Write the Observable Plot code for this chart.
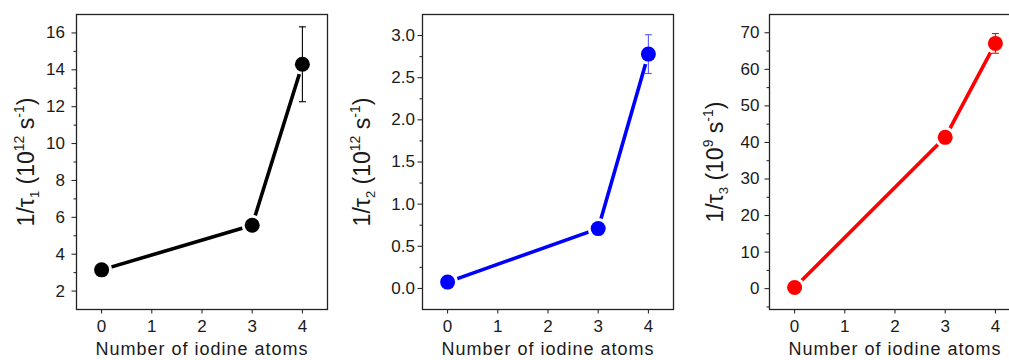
<!DOCTYPE html>
<html><head><meta charset="utf-8">
<script src="https://cdn.jsdelivr.net/npm/d3@7"></script>
<script src="https://cdn.jsdelivr.net/npm/@observablehq/plot@0.6"></script>
<style>
body{margin:0;background:#fff;overflow:hidden}
#wrap{position:relative;width:1009px;height:360px;overflow:hidden;background:#fff}
#wrap svg{position:absolute;top:0;overflow:visible}
#wrap svg text{font-family:"Liberation Sans",Arial,sans-serif}
#wrap svg g[aria-label="y-axis tick label"] text,
#wrap svg g[aria-label="x-axis tick label"] text{font-size:17px}
#wrap svg g[aria-label="x-axis label"] text{font-size:18px;letter-spacing:1px}
</style></head><body><div id="wrap"></div>
<script>
// ---- data ----
const iodine = [0, 3, 4];
const rate1 = [3.15, 5.57, 14.3];
const err1 = [0, 0, 2.03];
const rate2 = [0.075, 0.71, 2.78];
const err2 = [0, 0, 0.23];
const rate3 = [0.3, 41.4, 67.1];
const err3 = [0, 0, 2.7];

const xTicks = [0, 1, 2, 3, 4];
const yTicks1 = [2, 4, 6, 8, 10, 12, 14, 16];
const yMinor1 = [3, 5, 7, 9, 11, 13, 15];
const yTicks2 = [0.0, 0.5, 1.0, 1.5, 2.0, 2.5, 3.0];
const yMinor2 = [0.25, 0.75, 1.25, 1.75, 2.25, 2.75];
const yTicks3 = [0, 10, 20, 30, 40, 50, 60, 70];
const yMinor3 = [-5, 5, 15, 25, 35, 45, 55, 65];

const xLabel = "Number of iodine atoms";
const yLabel1 = [["1/τ", ""], ["1", "sub"], [" (10", ""], ["12", "sup"], [" s", ""], ["-1", "sup"], [")", ""]];
const yLabel2 = [["1/τ", ""], ["2", "sub"], [" (10", ""], ["12", "sup"], [" s", ""], ["-1", "sup"], [")", ""]];
const yLabel3 = [["1/τ", ""], ["3", "sub"], [" (10", ""], ["9", "sup"], [" s", ""], ["-1", "sup"], [")", ""]];

const panels = [
  {left: 0, mL: 76, mR: 13, pad: 7, rate: rate1, err: err1, domain: [1, 17], ticks: yTicks1, minor: yMinor1, fmt: d3.format("d"), color: "#000000", errColor: "#000000", label: yLabel1, labelOffset: 59},
  {left: 340, mL: 82, mR: 7, pad: 3, rate: rate2, err: err2, domain: [-0.25, 3.25], ticks: yTicks2, minor: yMinor2, fmt: d3.format(".1f"), color: "#0000ff", errColor: "#5a5aff", label: yLabel2, labelOffset: 69},
  {left: 680, mL: 89, mR: 0, pad: 5.5, rate: rate3, err: err3, domain: [-5.7, 75], ticks: yTicks3, minor: yMinor3, fmt: d3.format("d"), color: "#ff0000", errColor: "#ff0000", label: yLabel3, labelOffset: 63}
];

const FONT = "'Liberation Sans', Arial, sans-serif";
const capSymbol = {draw(ctx, size) { const w = Math.sqrt(size / Math.PI); ctx.moveTo(-w, 0); ctx.lineTo(w, 0); }};
const wrap = document.getElementById("wrap");

for (const p of panels) {
  const data = iodine.map((n, i) => ({n, v: p.rate[i], e: p.err[i]}));
  const errData = data.filter(d => d.e > 0);
  const plot = Plot.plot({
    width: 340, height: 360,
    marginTop: 14, marginBottom: 51, marginLeft: p.mL, marginRight: p.mR,
    style: `font-family: ${FONT}; font-size: 16px; color: #1a1a1a; background: transparent;`,
    x: {domain: [-0.5, 4.5]},
    y: {domain: p.domain},
    marks: [
      Plot.axisY(p.minor, {tickSize: 2.5, text: null, label: null}),
      Plot.axisY(p.ticks, {tickSize: 4.5, tickPadding: p.pad, tickFormat: p.fmt, label: "Y", labelAnchor: "center", labelOffset: p.labelOffset}),
      Plot.axisX(xTicks, {tickSize: 4.5, tickPadding: 6, label: xLabel, labelAnchor: "center", labelOffset: 45, labelArrow: "none"}),
      Plot.line(data, {x: "n", y: "v", stroke: p.color, strokeWidth: 3.6}),
      Plot.dot(data, {x: "n", y: "v", r: 10.5, fill: "white", stroke: "none"}),
      Plot.ruleX(errData, {x: "n", y1: d => d.v - d.e, y2: d => d.v + d.e, stroke: p.errColor, strokeWidth: 1.1}),
      Plot.dot(errData, {x: "n", y: d => d.v + d.e, symbol: capSymbol, r: 3.5, fill: "none", stroke: p.errColor, strokeWidth: 1.1}),
      Plot.dot(errData, {x: "n", y: d => d.v - d.e, symbol: capSymbol, r: 3.5, fill: "none", stroke: p.errColor, strokeWidth: 1.1}),
      Plot.dot(data, {x: "n", y: "v", r: 7.5, fill: p.color, stroke: "none"}),
      Plot.frame({stroke: "#222", strokeWidth: 1.3})
    ]
  });
  plot.style.left = p.left + "px";
  wrap.appendChild(plot);

  // x label text (no arrow)
  const xl = plot.querySelector('g[aria-label="x-axis label"] text');
  if (xl) xl.textContent = xLabel;
  // y label with sub/superscripts
  const yl = plot.querySelector('g[aria-label="y-axis label"]');
  if (yl) {
    const t = yl.querySelector("text");
    t.style.fontSize = "23px";
    t.textContent = "";
    let shift = 0;
    for (const [s, kind] of p.label) {
      const ts = document.createElementNS("http://www.w3.org/2000/svg", "tspan");
      const target = kind === "sub" ? 5 : kind === "sup" ? -10 : 0;
      if (target !== shift) { ts.setAttribute("dy", (target - shift) + "px"); shift = target; }
      if (kind) ts.style.fontSize = kind === "sub" ? "13px" : "14px";
      ts.textContent = s;
      t.appendChild(ts);
    }
  }
}
</script></body></html>
